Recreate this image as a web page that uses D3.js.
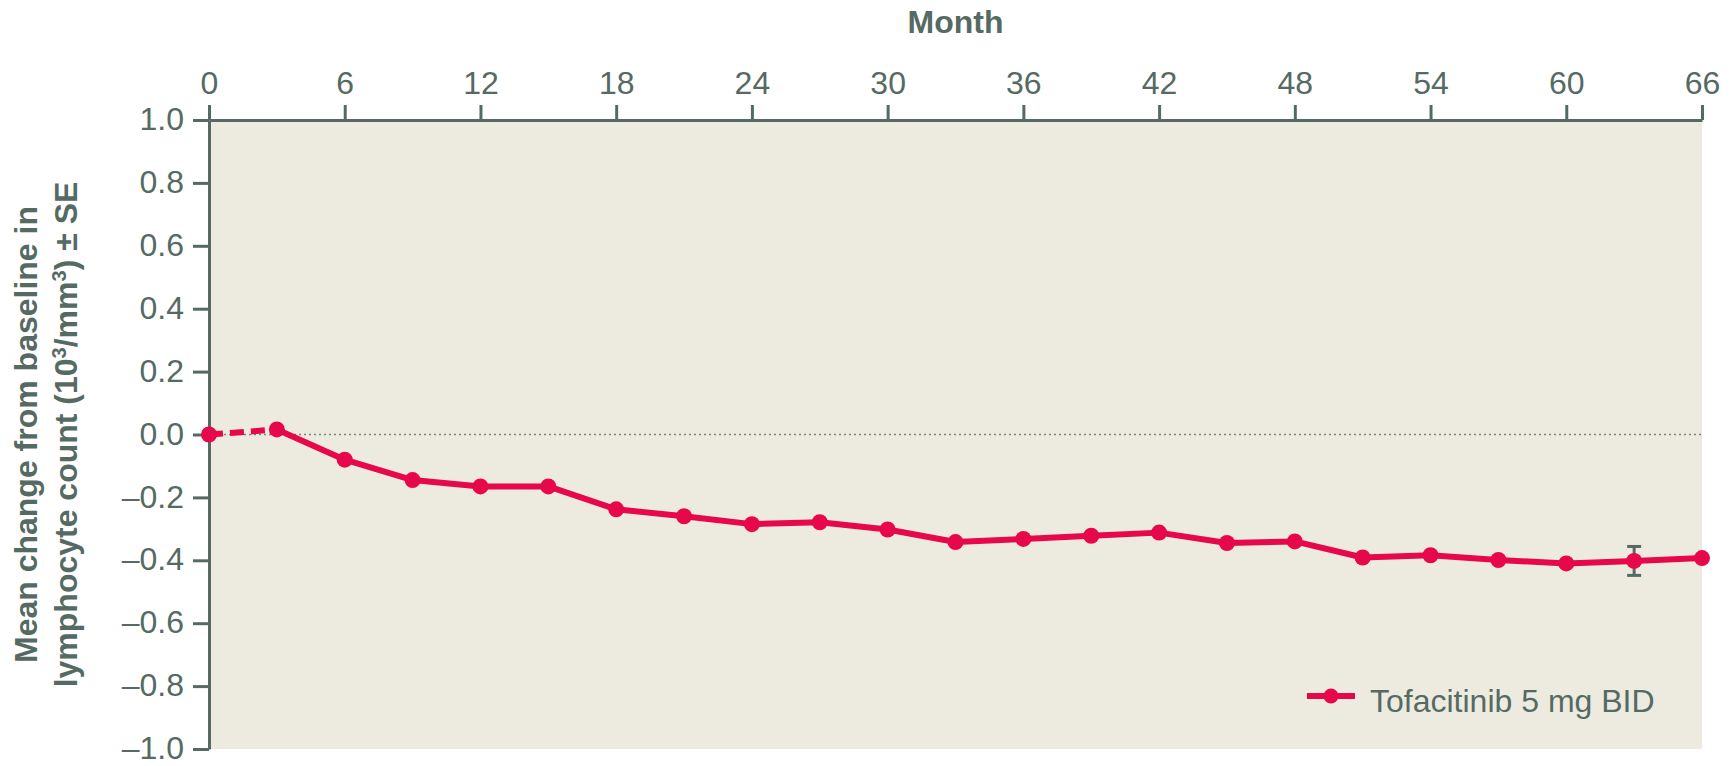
<!DOCTYPE html>
<html>
<head>
<meta charset="utf-8">
<script src="https://cdn.jsdelivr.net/npm/d3@7"></script>
<style>
  body { margin: 0; background: #fff; }
  text { font-family: Arial, "Liberation Sans", sans-serif; fill: #566a64; }
</style>
</head>
<body>
<svg id="chart"></svg>
<script>
// month of each visit
var months = [0, 3, 6, 9, 12, 15, 18, 21, 24, 27, 30, 33, 36, 39, 42, 45, 48, 51, 54, 57, 60, 63, 66];
// mean change from baseline in lymphocyte count (10^3/mm^3)
var meanChange = [0, 0.016, -0.08, -0.145, -0.165, -0.165, -0.238, -0.26, -0.285, -0.279, -0.302, -0.342,
                  -0.332, -0.322, -0.312, -0.345, -0.34, -0.391, -0.384, -0.399, -0.41, -0.402, -0.393];
// only one SE bar is drawn in the figure
var seMonths = [63];
var seValues = [0.046];
var xTicks = [0, 6, 12, 18, 24, 30, 36, 42, 48, 54, 60, 66];
var yTicks = [1.0, 0.8, 0.6, 0.4, 0.2, 0.0, -0.2, -0.4, -0.6, -0.8, -1.0];
var seriesName = "Tofacitinib 5 mg BID";

var W = 1736, H = 766;
var margin = {top: 120, right: 34, bottom: 17, left: 209},
    width = W - margin.left - margin.right,
    height = H - margin.top - margin.bottom;

var ink = "#566a64", red = "#e6084a", paper = "#edebe0";

var svg = d3.select("#chart")
    .attr("width", W)
    .attr("height", H)
  .append("g")
    .attr("transform", "translate(" + margin.left + "," + margin.top + ")");

var x = d3.scaleLinear().domain([0, 66]).range([0, width]);
var y = d3.scaleLinear().domain([-1, 1]).range([height, 0]);

// plot background
svg.append("rect")
    .attr("width", width)
    .attr("height", height)
    .attr("fill", paper);

// dotted zero line
svg.append("line")
    .attr("x1", 0).attr("x2", width)
    .attr("y1", y(0)).attr("y2", y(0))
    .attr("stroke", "#7a8580")
    .attr("stroke-width", 1.5)
    .attr("stroke-dasharray", "2,3");

// axes
var xAxis = d3.axisTop(x).tickValues(xTicks).tickSize(15).tickSizeOuter(0).tickPadding(11);
var yAxis = d3.axisLeft(y).tickValues(yTicks).tickSize(16).tickSizeOuter(0).tickPadding(9)
    .tickFormat(function (d) { return d3.format(".1f")(d).replace("\u2212", "\u2013"); });

var gx = svg.append("g").attr("class", "xAxis").call(xAxis);
var gy = svg.append("g").attr("class", "yAxis").call(yAxis);

[gx, gy].forEach(function (g) {
  g.selectAll("path, line").attr("stroke", ink).attr("stroke-width", 3);
  g.selectAll("text").attr("fill", ink).style("font-size", "32px")
    .style("font-family", "Arial, 'Liberation Sans', sans-serif");
});
gy.selectAll("text").attr("dy", "0.3em");

// axis titles
svg.append("text")
    .attr("x", width / 2)
    .attr("y", 33 - margin.top)
    .attr("text-anchor", "middle")
    .style("font-size", "32px")
    .style("font-weight", "bold")
    .text("Month");

var yTitle = svg.append("text")
    .attr("transform", "translate(" + (37 - margin.left) + "," + (height / 2) + ") rotate(-90)")
    .attr("text-anchor", "middle")
    .style("font-size", "32px")
    .style("font-weight", "bold");
yTitle.append("tspan").attr("x", 0).attr("y", 0).text("Mean change from baseline in");
var l2 = yTitle.append("tspan").attr("x", 0).attr("y", 40);
l2.append("tspan").text("lymphocyte count (10");
l2.append("tspan").attr("baseline-shift", "super").style("font-size", "20px").text("3");
l2.append("tspan").text("/mm");
l2.append("tspan").attr("baseline-shift", "super").style("font-size", "20px").text("3");
l2.append("tspan").text(") \u00b1 SE");

// data
var pts = months.map(function (m, i) { return {m: m, v: meanChange[i]}; });

var line = d3.line()
    .x(function (d) { return x(d.m); })
    .y(function (d) { return y(d.v); });

// baseline to first visit is dashed
svg.append("path")
    .datum(pts.slice(0, 2))
    .attr("fill", "none")
    .attr("stroke", red)
    .attr("stroke-width", 6)
    .attr("stroke-dasharray", "14,7")
    .attr("d", line);

svg.append("path")
    .datum(pts.slice(1))
    .attr("fill", "none")
    .attr("stroke", red)
    .attr("stroke-width", 6)
    .attr("stroke-linejoin", "round")
    .attr("d", line);

// SE bar
seMonths.forEach(function (m, i) {
  var v = meanChange[months.indexOf(m)], se = seValues[i];
  var g = svg.append("g").attr("stroke", ink).attr("stroke-width", 3);
  g.append("line").attr("x1", x(m)).attr("x2", x(m)).attr("y1", y(v + se)).attr("y2", y(v - se));
  g.append("line").attr("x1", x(m) - 7).attr("x2", x(m) + 7).attr("y1", y(v + se)).attr("y2", y(v + se));
  g.append("line").attr("x1", x(m) - 7).attr("x2", x(m) + 7).attr("y1", y(v - se)).attr("y2", y(v - se));
});

svg.selectAll(".dot")
    .data(pts)
  .enter().append("circle")
    .attr("class", "dot")
    .attr("cx", function (d) { return x(d.m); })
    .attr("cy", function (d) { return y(d.v); })
    .attr("r", 8)
    .attr("fill", red);

// legend
var lg = svg.append("g").attr("transform", "translate(" + (width - 395) + "," + (height - 53) + ")");
lg.append("line").attr("x1", 0).attr("x2", 48).attr("stroke", red).attr("stroke-width", 6);
lg.append("circle").attr("cx", 24).attr("r", 7.5).attr("fill", red);
lg.append("text").attr("x", 63).attr("y", 16).style("font-size", "32px").text(seriesName);
</script>
</body>
</html>
